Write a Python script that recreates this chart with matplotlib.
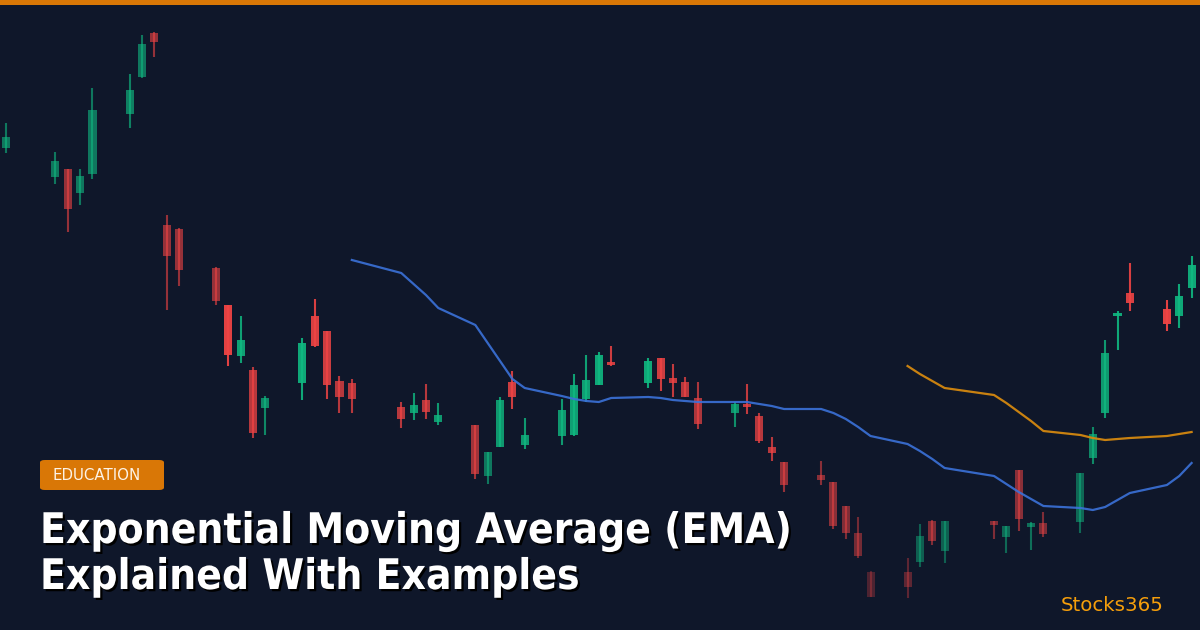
import matplotlib
matplotlib.use("Agg")
import matplotlib.pyplot as plt
import matplotlib.patheffects as pe
from matplotlib.patches import FancyBboxPatch, Rectangle
import matplotlib.dates as mdates
import pandas as pd

# trading days (weekends + a few market holidays skipped)
holidays = ["2024-01-01", "2024-01-29", "2024-03-15"]
dates = pd.bdate_range("2023-12-29", "2024-04-03", freq="C", holidays=holidays)

opens = [552, 523, 531, 507, 526, 586, 623, 667, 475, 471,
         432, 395, 344, 330, 292, 317, 384, 369, 319, 317,
         293, 287, 300, 278, 275, 224, 253, 318, 255, 264,
         265, 301, 315, 338, 317, 342, 322, 318, 302, 287,
         296, 284, 253, 238, 225, 218, 194, 167, 128, 128,
         138, 179, 149, 179, 163, 230, 173, 177, 178, 242,
         287, 384, 407, 391, 384, 412]
highs = [577, 548, 531, 531, 612, 626, 665, 668, 485, 472,
         433, 395, 384, 333, 304, 362, 401, 369, 324, 321,
         298, 307, 316, 297, 275, 248, 303, 329, 282, 301,
         326, 345, 348, 354, 342, 342, 336, 323, 318, 298,
         316, 287, 263, 238, 239, 218, 194, 183, 129, 142,
         176, 180, 179, 179, 174, 230, 178, 188, 227, 273,
         360, 389, 437, 400, 416, 444]
lows = [547, 516, 468, 495, 521, 572, 622, 643, 390, 414,
        395, 334, 337, 262, 265, 300, 353, 301, 287, 287,
        272, 280, 281, 275, 221, 216, 253, 291, 251, 255,
        264, 298, 315, 334, 312, 309, 303, 303, 271, 273,
        286, 257, 239, 208, 215, 171, 161, 142, 103, 102,
        133, 155, 137, 161, 147, 169, 150, 163, 167, 236,
        282, 350, 389, 369, 372, 402]
closes = [563, 539, 491, 524, 590, 610, 656, 658, 444, 430,
          399, 345, 360, 267, 302, 357, 354, 315, 303, 301,
          281, 295, 288, 285, 226, 248, 300, 303, 265, 290,
          315, 320, 345, 335, 339, 321, 317, 303, 276, 296,
          293, 259, 247, 215, 220, 174, 167, 144, 103, 113,
          164, 159, 179, 175, 174, 181, 177, 166, 227, 266,
          347, 387, 397, 376, 404, 435]

# EMA lines start later in the window
ema_fast = [440, 427, 416, 405, 392, 375, 357, 339, 321, 312,
            304, 301, 299, 298, 302, 303, 302, 300, 299, 298,
            298, 298, 296, 294, 291, 291, 287, 281, 273, 264,
            256, 249, 241, 232, 224, 216, 208, 201, 194, 192,
            190, 193, 200, 207, 215, 224, 237]
ema_slow = [334, 326, 319, 312, 305, 297, 288, 279, 269, 265,
            262, 260, 261, 262, 264, 266, 268]

# candle opacity (the image fades some candles into the background)
fade = [0.6, 0.6, 0.6, 0.6, 0.6, 0.65, 0.6, 0.6, 0.6, 0.6,
        0.6, 0.95, 0.85, 0.75, 0.7, 0.9, 0.9, 0.85, 0.75, 0.75,
        0.75, 0.8, 0.75, 0.8, 0.65, 0.6, 0.8, 0.85, 0.8, 0.8,
        0.85, 0.85, 0.9, 0.85, 0.9, 0.85, 0.8, 0.75, 0.7, 0.75,
        0.8, 0.75, 0.75, 0.6, 0.55, 0.55, 0.5, 0.45, 0.28, 0.35,
        0.45, 0.5, 0.45, 0.5, 0.5, 0.55, 0.55, 0.5, 0.5, 0.7,
        0.8, 0.9, 0.9, 0.95, 0.9, 0.9]

BG = "#0f172a"
UP = "#10b981"
DOWN = "#ef4444"

fig = plt.figure(figsize=(12, 6.3), dpi=100, facecolor=BG)
ax = fig.add_axes([0, 0, 1, 1])
ax.set_facecolor(BG)

x = mdates.date2num(dates)
for xi, o, h, l, c, a in zip(x, opens, highs, lows, closes, fade):
    col = UP if c >= o else DOWN
    ax.vlines(xi, l, h, color=col, lw=1.5, alpha=a, zorder=2)
    ax.bar(xi, abs(c - o), bottom=min(o, c), width=0.65, color=col,
           alpha=a, zorder=2, linewidth=0)

ax.plot(x[-len(ema_fast):], ema_fast, color="#3b72d9", lw=1.6, alpha=0.9, zorder=3)
ax.plot(x[-len(ema_slow):], ema_slow, color="#d4880f", lw=1.6, alpha=0.95, zorder=3)

start = mdates.date2num(pd.Timestamp("2023-12-29"))
ax.set_xlim(start - 0.49, start + 96.68)
ax.set_ylim(70, 700)
ax.axis("off")

# top accent bar
fig.patches.append(Rectangle((0, 1 - 5 / 630), 1, 5 / 630, transform=fig.transFigure,
                             facecolor="#d97706", edgecolor="none", zorder=5))

# category badge
badge = FancyBboxPatch((40 / 1200, 140 / 630), 124 / 1200, 30 / 630,
                       boxstyle="round,pad=0,rounding_size=0.004",
                       transform=fig.transFigure, facecolor="#d97706",
                       edgecolor="none", zorder=5)
fig.patches.append(badge)
fig.text(52 / 1200, 155 / 630, "EDUCATION", color="#fdf3e7", fontsize=10.8,
         va="center", ha="left", zorder=6)

shadow = [pe.withSimplePatchShadow(offset=(1.6, -1.6), shadow_rgbFace="black", alpha=1.0)]
t1 = fig.text(40 / 1200, (630 - 543) / 630, "Exponential Moving Average (EMA)",
              color="white", fontsize=29.5, fontweight="bold", fontstretch="condensed",
              va="baseline", path_effects=shadow, zorder=6)
t2 = fig.text(40 / 1200, (630 - 589) / 630, "Explained With Examples",
              color="white", fontsize=29.5, fontweight="bold", fontstretch="condensed",
              va="baseline", path_effects=shadow, zorder=6)

# fit the headline to the width it has in the picture (~753 px)
r = fig.canvas.get_renderer()
w = t1.get_window_extent(renderer=r).width
size = 29.5 * 753 / w
t1.set_fontsize(size)
t2.set_fontsize(size)

fig.text(1061 / 1200, (630 - 611) / 630, "Stocks365", color="#f59e0b",
         fontsize=14.2, va="baseline", ha="left", zorder=6)

fig.savefig("out.png", dpi=100, facecolor=BG)
